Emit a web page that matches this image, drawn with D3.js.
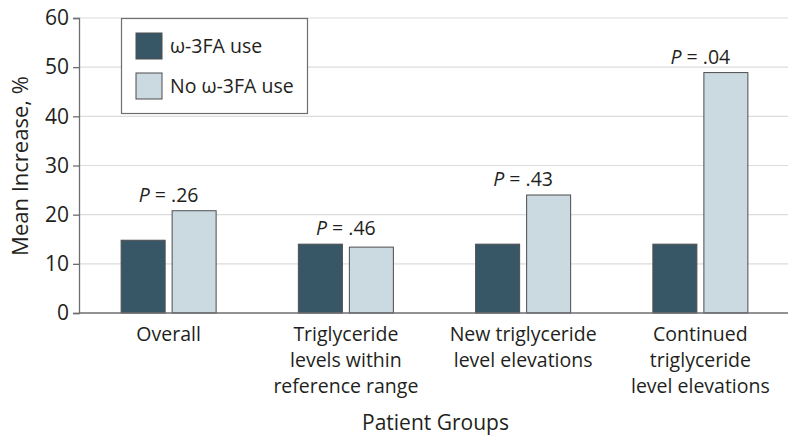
<!DOCTYPE html>
<html><head><meta charset="utf-8">
<script src="https://cdn.jsdelivr.net/npm/d3@7"></script>
<style>body{margin:0;background:#fff}svg text{font-family:"Open Sans","Noto Sans",sans-serif;fill:#231f20}</style>
</head><body><svg id="c" width="800" height="445"></svg>
<script>
const categories = [["Overall"],["Triglyceride","levels within","reference range"],["New triglyceride","level elevations"],["Continued","triglyceride","level elevations"]];
const seriesNames = ["ω-3FA use","No ω-3FA use"];
const useValues = [14.8, 14.0, 14.0, 14.0];
const noUseValues = [20.8, 13.4, 24.0, 48.9];
const pValues = [".26", ".46", ".43", ".04"];
const yTicks = [0,10,20,30,40,50,60];
const colors = ["#385766","#cbd9e1"];

const svg = d3.select("#c");
const m = {l:79, r:12, t:18, b:132};
const W = 800, H = 445;
const x = d3.scaleBand().domain(d3.range(categories.length)).range([m.l, W - m.r]);
const y = d3.scaleLinear().domain([0,60]).range([313, 18]);
const bw = 44, gap = 7;

// grid
svg.append("g").selectAll("line").data(yTicks.filter(d=>d>0)).join("line")
  .attr("x1", m.l).attr("x2", W - m.r).attr("y1", d=>y(d)).attr("y2", d=>y(d))
  .attr("stroke", "#dcdcdc").attr("stroke-width", 1.2);

// y axis
const ya = svg.append("g").attr("transform", `translate(${m.l},0)`)
  .call(d3.axisLeft(y).tickValues(yTicks).tickSize(6).tickPadding(4));
ya.select(".domain").attr("stroke", "#6d6e70").attr("stroke-width", 1.3);
ya.selectAll(".tick line").attr("stroke", "#6d6e70").attr("stroke-width", 1.3);
ya.selectAll(".tick text").attr("font-size", 21).attr("font-family", "Open Sans").attr("fill", "#231f20");

// bars
const data = categories.map((c,i)=>({i, vals:[useValues[i], noUseValues[i]]}));
const g = svg.append("g");
data.forEach(d => {
  const cx = x(d.i) + x.bandwidth()/2 + 1;
  d.vals.forEach((v,k) => {
    const x0 = k===0 ? cx - gap/2 - bw : cx + gap/2;
    g.append("rect").attr("x", x0).attr("y", y(v)).attr("width", bw).attr("height", y(0)-y(v))
      .attr("fill", colors[k]).attr("stroke", "#4d4d4f").attr("stroke-width", 1);
  });
  const top = y(d3.max(d.vals));
  const t = svg.append("text").attr("x", cx).attr("y", top - 9).attr("text-anchor", "middle").attr("font-size", 19.5);
  t.append("tspan").attr("font-style", "italic").text("P");
  t.append("tspan").text(" = " + pValues[d.i]);
  // category label
  const lab = svg.append("text").attr("text-anchor", "middle").attr("font-size", 19.5);
  categories[d.i].forEach((line, j) => {
    lab.append("tspan").attr("x", cx).attr("y", 341 + j*26).text(line);
  });
});

// baseline
svg.append("line").attr("x1", m.l).attr("x2", W - m.r).attr("y1", y(0)).attr("y2", y(0))
  .attr("stroke", "#6d6e70").attr("stroke-width", 1.3);

// legend
const lg = svg.append("g");
lg.append("rect").attr("x", 121.5).attr("y", 18.5).attr("width", 186).attr("height", 95)
  .attr("fill", "#fff").attr("stroke", "#6d6e70").attr("stroke-width", 1.2);
seriesNames.forEach((s,k) => {
  lg.append("rect").attr("x", 136).attr("y", 33 + k*40).attr("width", 26).attr("height", 26)
    .attr("fill", colors[k]).attr("stroke", "#4d4d4f").attr("stroke-width", 1);
  lg.append("text").attr("x", 170).attr("y", 53 + k*40).attr("font-size", 19.5).text(s);
});

// axis titles
svg.append("text").attr("x", (m.l + W - m.r)/2 + 2).attr("y", 430).attr("text-anchor", "middle").attr("font-size", 21).text("Patient Groups");
svg.append("text").attr("transform", "translate(28,166) rotate(-90)").attr("text-anchor", "middle").attr("font-size", 22).text("Mean Increase, %");
</script></body></html>
